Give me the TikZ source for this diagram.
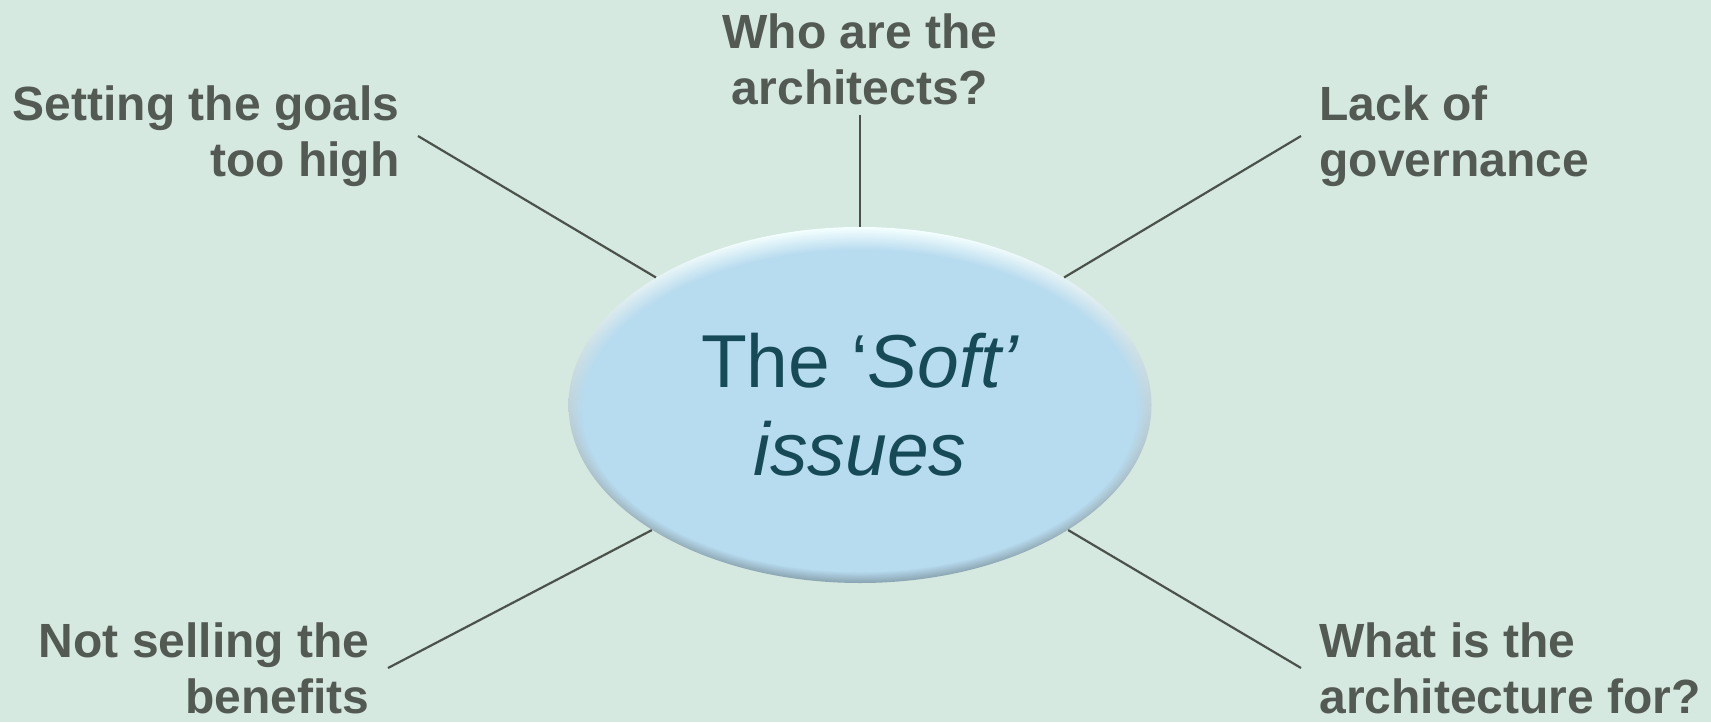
\documentclass[tikz,border=0pt]{standalone}
\usepackage{fontspec}
\setmainfont{Liberation Sans}
\usetikzlibrary{shapes.geometric}

\definecolor{paper}{HTML}{D5E9E0}
\definecolor{labelgray}{HTML}{535A54}
\definecolor{softblue}{HTML}{B7DBEF}
\definecolor{softink}{HTML}{174A57}
\definecolor{rimlight}{HTML}{F4FFFF}
\definecolor{rimdark}{HTML}{8CA6B4}
\definecolor{wirecol}{HTML}{4B524C}

\begin{document}
\begin{tikzpicture}[x=0.5pt,y=-0.5pt,
    issue/.style={font=\bfseries\fontsize{24}{28}\selectfont, text=labelgray,
      inner xsep=9pt, inner ysep=5pt},
    wire/.style={draw=wirecol, line width=1.1pt}]
  \def\RX{291.5} % half width of the ellipse
  \def\RY{178}   % half height of the ellipse

  % --- page
  \fill[paper] (0,0) rectangle (1711,722);
  \useasboundingbox (0,0) rectangle (1711,722);

  % --- bevelled ellipse
  \foreach \k in {0,...,12}{
    \pgfmathtruncatemacro\p{\k*100/12}
    \shade[top color=softblue!\p!rimlight, bottom color=softblue!\p!rimdark]
      (860,{405+\k*0.5}) ellipse ({\RX-\k*1.2} and {\RY-\k*1.4});
  }
  \fill[softblue] (860,411) ellipse ({\RX-15} and {\RY-17});

  \node[ellipse, minimum width=291.5pt, minimum height=178pt, inner sep=0pt,
    text=softink, font=\fontsize{37.5}{44}\selectfont, align=center]
    (soft) at (860,405) {The `\textit{Soft'}\\\textit{issues}};

  % --- the issues round it
  \node[issue, anchor=east, align=right] (goals) at (418,136) {Setting the goals\\too high};
  \node[issue, anchor=south, align=center] (who) at (860,115) {Who are the\\architects?};
  \node[issue, anchor=west, align=left] (lack) at (1301,136) {Lack of\\governance};
  \node[issue, anchor=east, align=right] (selling) at (388,668) {Not selling the\\benefits};
  \node[issue, anchor=west, align=left] (purpose) at (1301,668) {What is the\\architecture for?};

  % --- connectors
  \draw[wire] (goals.east) -- (soft.148);
  \draw[wire] (who.south) -- (soft.north);
  \draw[wire] (lack.west) -- (soft.32);
  \draw[wire] (selling.east) -- (soft.211);
  \draw[wire] (purpose.west) -- (soft.329);
\end{tikzpicture}
\end{document}
